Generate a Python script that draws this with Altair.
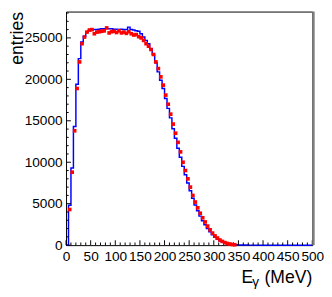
import altair as alt
import pandas as pd

# ---- data ----
bin_low = list(range(0, 500, 5))  # 5 MeV bins, 0..500
blue_counts = [
    0, 4800, 9300, 14300, 19400, 22500, 24500, 25200, 25700, 25900,
    25950, 26000, 26000, 26050, 26100, 26100, 26150, 26100, 26100, 26050,
    26050, 26000, 26050, 26000, 26000, 26300, 26000, 25950, 25850, 25800,
    25500, 25100, 24700, 24300, 23700, 23000, 22000, 20900, 19900, 18900,
    17700, 16500, 15350, 14050, 12900, 11700, 10600, 9500, 8500, 7500,
    6550, 5650, 4850, 4150, 3500, 2950, 2450, 2000, 1600, 1250,
    950, 720, 530, 380, 270, 190, 130, 90, 60, 40,
    25, 15, 10, 6, 4, 2, 1, 0, 0, 0,
    0, 0, 0, 0, 0, 0, 0, 0, 0, 0,
    0, 0, 0, 0, 0, 0, 0, 0, 0, 0,
]
red_E = [
    7.5, 12.5, 17.5, 22.5, 27.5, 32.5, 37.5, 42.5, 47.5, 52.5,
    57.5, 62.5, 67.5, 72.5, 77.5, 82.5, 87.5, 92.5, 97.5, 102.5,
    107.5, 112.5, 117.5, 122.5, 127.5, 132.5, 137.5, 142.5, 147.5, 152.5,
    157.5, 162.5, 167.5, 172.5, 177.5, 182.5, 187.5, 192.5, 197.5, 202.5,
    207.5, 212.5, 217.5, 222.5, 227.5, 232.5, 237.5, 242.5, 247.5, 252.5,
    257.5, 262.5, 267.5, 272.5, 277.5, 282.5, 287.5, 292.5, 297.5, 302.5,
    307.5, 312.5, 317.5, 322.5, 327.5, 332.5, 337.5, 342.5,
]
red_counts = [
    4300, 8800, 13800, 18900, 22100, 24300, 25100, 25700, 25950, 26000,
    25500, 25700, 25750, 25800, 25850, 26200, 25600, 25750, 25800, 25650,
    25850, 25600, 25700, 25550, 25750, 25500, 25350, 25400, 25150, 25000,
    24700, 24300, 24000, 23600, 23000, 22100, 21300, 20300, 19300, 18100,
    17000, 15800, 14600, 13500, 12400, 11250, 10000, 9000, 8000, 7000,
    6000, 5200, 4500, 3850, 3300, 2800, 2300, 1850, 1450, 1120,
    860, 620, 450, 310, 200, 130, 80, 50,
]
x_major = list(range(0, 501, 50))
x_minor = [v for v in range(0, 501, 10) if v % 50]
y_major = list(range(0, 25001, 5000))
y_minor = [v for v in range(0, 28001, 1000) if v % 5000]

# ---- layout ----
W = 252.5
H = 239.5
FONT = "Liberation Sans"

xscale = alt.Scale(domain=[0, 500], nice=False, zero=False)
yscale = alt.Scale(domain=[0, 28176], nice=False, zero=False)

xaxis = alt.Axis(values=x_major, title=None, ticks=False, domain=False, grid=False,
                 labelFont=FONT, labelFontSize=14, labelColor="black", labelPadding=5,
                 labelFlush=False, labelOverlap=False, format="d")
yaxis = alt.Axis(values=y_major, title="entries", ticks=False, domain=False, grid=False,
                 labelFont=FONT, labelFontSize=14, labelColor="black", labelPadding=4,
                 labelOverlap=False, format="d",
                 titleFont=FONT, titleFontSize=18, titleFontWeight="normal", titleColor="black",
                 titleAngle=270, titleAlign="right", titleBaseline="alphabetic",
                 titleX=-44.5, titleY=0)

hist_df = pd.DataFrame({"E": bin_low + [500], "n": blue_counts + [blue_counts[-1]]})
red_df = pd.DataFrame({"E": red_E, "n": red_counts})

hist = alt.Chart(hist_df).mark_line(
    interpolate="step-after", color="#0000ff", strokeWidth=1.5
).encode(
    x=alt.X("E:Q", scale=xscale, axis=xaxis),
    y=alt.Y("n:Q", scale=yscale, axis=yaxis),
)

pts = alt.Chart(red_df).mark_square(color="#ff0000", size=14, opacity=1).encode(
    x=alt.X("E:Q", scale=xscale, axis=xaxis),
    y=alt.Y("n:Q", scale=yscale, axis=yaxis),
)

def xticks(vals, length):
    return alt.Chart(pd.DataFrame({"E": vals})).mark_rule(color="black", strokeWidth=1).encode(
        x=alt.X("E:Q", scale=xscale, axis=xaxis),
        y=alt.value(H), y2=alt.value(H - length),
    )

def yticks(vals, length):
    return alt.Chart(pd.DataFrame({"n": vals})).mark_rule(color="black", strokeWidth=1).encode(
        y=alt.Y("n:Q", scale=yscale, axis=yaxis),
        x=alt.value(0), x2=alt.value(length),
    )

one = pd.DataFrame({"a": [0]})
border = alt.Chart(one).mark_rule(color="#808080", strokeWidth=2.5).encode(
    x=alt.value(W + 1.2), y=alt.value(0), y2=alt.value(H)
)
t_E = alt.Chart(one).mark_text(text="E", font=FONT, fontSize=18, align="left",
                               baseline="alphabetic", color="black").encode(
    x=alt.value(180.0), y=alt.value(278))
t_g = alt.Chart(one).mark_text(text="γ", font=FONT, fontSize=14, align="left",
                               baseline="alphabetic", color="black").encode(
    x=alt.value(191.0), y=alt.value(281.5))
t_u = alt.Chart(one).mark_text(text="(MeV)", font=FONT, fontSize=18, align="right",
                               baseline="alphabetic", color="black").encode(
    x=alt.value(W), y=alt.value(278))

chart = alt.layer(
    hist,
    xticks(x_major, 5), xticks(x_minor, 2.7),
    yticks(y_major, 5), yticks(y_minor, 2.7),
    pts, border, t_E, t_g, t_u,
).properties(
    width=W, height=H,
    padding={"left": 59.5, "top": 0, "right": 12, "bottom": 49},
    autosize=alt.AutoSizeParams(type="none"),
    background="white",
).configure_view(stroke="black", strokeWidth=1)

chart.save("out.html", embed_options={"renderer": "svg", "actions": False})
